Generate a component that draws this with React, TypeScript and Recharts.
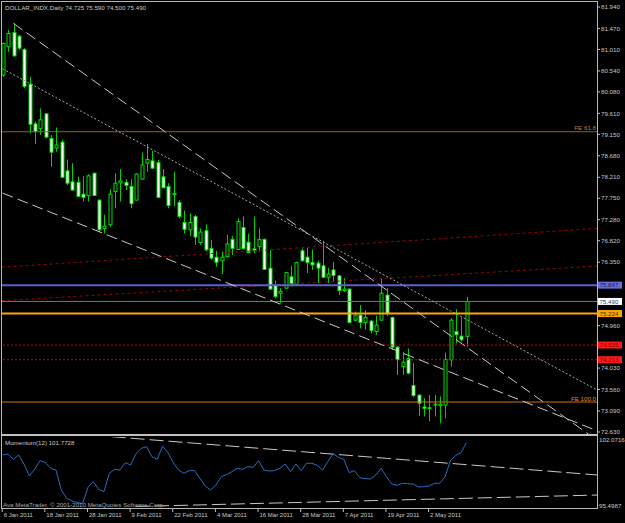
import React from "react";
import { ComposedChart, Bar, Line, XAxis, YAxis, ReferenceLine } from "recharts";

// Daily candles (bar 0 = 6 Jan 2011)
const opens = [
  80.45, 81.07, 81.38, 81.3, 81.01, 80.25, 79.38, 79.28, 79.6, 79.06,
  78.85, 78.98, 78.35, 78.11, 78.1, 77.84, 77.81, 78.3, 77.71, 77.09,
  77.17, 77.9, 78.09, 78.1, 78.01, 77.71, 78.17, 78.52, 78.57, 78.53,
  78.22, 78.01, 77.85, 77.66, 77.22, 77.06, 77.35, 76.78, 77.04, 76.65,
  76.46, 76.38, 76.47, 76.85, 76.63, 77.11, 76.79, 76.64, 76.69, 76.85,
  76.22, 75.84, 75.67, 75.78, 76.03, 75.87, 76.6, 76.46, 76.34, 76.33,
  76.27, 76.02, 76.18, 76.05, 75.73, 75.76, 75.08, 75.19, 75.03, 75.06,
  74.83, 75.08, 75.63, 75.14, 74.49, 74.06, 74.24, 73.65, 73.44, 73.18,
  73.16, 73.22, 73.21, 73.22, 74.21, 74.83, 74.73, 74.725,
];
const highs = [
  81.16, 81.44, 81.58, 81.33, 81.04, 80.41, 79.43, 79.72, 79.61, 79.14,
  79.3, 79.03, 78.6, 78.52, 78.22, 78.24, 78.28, 78.31, 77.72, 77.39,
  77.95, 78.3, 78.39, 78.17, 78.17, 78.3, 78.75, 78.94, 78.79, 78.59,
  78.39, 78.08, 78.33, 77.71, 77.48, 77.42, 77.38, 77.09, 77.18, 76.84,
  76.6, 76.58, 76.95, 76.92, 77.31, 77.35, 76.98, 77.35, 77.09, 76.87,
  76.62, 75.95, 75.78, 76.14, 76.27, 76.36, 76.65, 76.68, 76.63, 76.38,
  76.82, 76.22, 76.36, 76.07, 76.0, 75.78, 75.27, 75.41, 75.3, 75.08,
  75.18, 76.0, 75.78, 75.16, 74.51, 74.39, 74.46, 74.14, 73.44, 73.37,
  73.44, 73.44, 73.41, 74.37, 75.12, 75.32, 75.14, 75.59,
];
const lows = [
  80.41, 80.96, 80.85, 81.0, 80.16, 79.17, 78.94, 79.14, 79.06, 78.44,
  78.77, 78.19, 78.04, 77.92, 77.77, 77.68, 77.68, 77.8, 77.02, 76.98,
  77.13, 77.53, 77.68, 77.93, 77.53, 77.7, 78.15, 78.33, 78.39, 77.75,
  77.97, 77.53, 77.58, 77.31, 76.98, 76.92, 76.73, 76.73, 76.58, 76.4,
  76.25, 76.09, 76.45, 76.51, 76.62, 76.62, 76.55, 76.55, 76.58, 76.18,
  75.74, 75.56, 75.45, 75.77, 75.82, 75.85, 76.36, 76.11, 76.18, 75.89,
  76.0, 75.89, 75.92, 75.63, 75.7, 75.01, 75.05, 74.9, 74.87, 74.79,
  74.76, 75.07, 75.17, 74.43, 73.88, 73.88, 73.89, 73.39, 72.98, 72.97,
  72.86, 72.97, 72.82, 72.93, 74.06, 74.57, 74.61, 74.5,
];
const closes = [
  81.14, 81.36, 80.87, 81.04, 80.2, 79.37, 79.21, 79.47, 79.09, 78.76,
  78.92, 78.21, 78.08, 77.93, 77.79, 77.77, 78.24, 77.81, 77.06, 77.14,
  77.84, 78.08, 78.13, 78.03, 77.63, 78.28, 78.48, 78.6, 78.41, 77.77,
  77.98, 77.59, 77.83, 77.35, 77.07, 77.22, 76.9, 77.01, 76.62, 76.44,
  76.35, 76.46, 76.75, 76.65, 77.24, 76.65, 76.56, 76.6, 76.85, 76.19,
  75.76, 75.6, 75.71, 76.12, 75.87, 76.34, 76.38, 76.34, 76.29, 76.22,
  76.02, 76.09, 76.06, 75.73, 75.76, 75.03, 75.19, 75.03, 75.14, 74.85,
  74.97, 75.67, 75.23, 74.49, 74.22, 74.16, 73.92, 73.43, 73.26, 73.15,
  73.14, 73.24, 73.24, 74.22, 75.08, 74.76, 74.65, 75.49,
];
const momentum = [
  100.53, 100.63, 100.1, 100.53, 99.63, 98.44, 99.1, 99.96, 99.77, 99.2,
  99.03, 97.04, 96.21, 95.95, 95.78, 95.71, 97.31, 97.87, 97.11, 96.88,
  98.7, 99.1, 99.03, 99.77, 99.53, 100.63, 101.19, 101.36, 100.36, 100.1,
  101.42, 100.76, 99.77, 99.03, 98.7, 98.97, 98.97, 98.2, 97.44, 97.04,
  97.54, 98.37, 98.57, 98.87, 99.2, 99.1, 99.37, 99.3, 99.96, 99.03,
  98.93, 98.97, 99.2, 99.63, 98.87, 99.63, 98.97, 99.7, 99.7, 99.5,
  99.03, 99.86, 100.63, 100.3, 100.1, 98.77, 98.97, 98.27, 98.17, 98.14,
  98.54, 99.2, 98.37, 97.64, 97.51, 97.71, 97.67, 97.64, 97.34, 97.37,
  97.44, 97.71, 97.71, 98.37, 99.96, 100.49, 100.76, 101.7728,
];

const priceTicks = [
  81.94, 81.47, 81.01, 80.54, 80.08, 79.61, 79.15, 78.68, 78.21,
  77.75, 77.28, 76.82, 76.35, 74.96, 74.03, 73.56, 73.09, 72.63,
];
const momTicks = [102.0716, 95.4987];
const dateTickBars = [0, 8, 16, 24, 32, 40, 48, 56, 64, 72, 80];
const dateTickLabels = [
  "6 Jan 2011", "18 Jan 2011", "28 Jan 2011", "9 Feb 2011", "22 Feb 2011",
  "4 Mar 2011", "16 Mar 2011", "28 Mar 2011", "7 Apr 2011", "19 Apr 2011", "2 May 2011",
];

// price levels with boxed labels on the axis
const levelPrices = [75.847, 75.49, 75.224, 74.535, 74.213];
const levelLabels = ["75.847", "75.490", "75.224", "74.535", "74.213"];
const fePrices = [79.208, 73.287];
const feLabels = ["FE 61.8", "FE 100.0"];

// trend lines: [bar, price, bar, price]
const channelTop = [2, 81.583, 111.5, 72.448];
const channelMid = [0, 80.586, 111.5, 73.55];
const channelLow = [0, 77.863, 111.5, 72.656];
const redRiseHigh = [-0.2, 76.238, 111.7, 77.092];
const redRiseLow = [-0.2, 75.506, 111.7, 76.266];
const momLineHigh = [16.9, 102.5, 111.5, 98.54];
const momLineLow = [25, 95.4, 111.5, 96.54];

const X_DOMAIN = [-0.13, 111.5];
const FONT = "'Liberation Sans', Arial, sans-serif";
const AXIS_TEXT = "#c8c8c8";

const bars = opens.map((o, i) => ({
  i,
  open: o,
  high: highs[i],
  low: lows[i],
  close: closes[i],
  range: [lows[i], highs[i]],
}));
const momRows = momentum.map((m, i) => ({ i, mom: m }));

function Candle(props: any) {
  const { x, y, width, height, payload } = props;
  if (x == null || !payload) return null;
  const top = Math.min(y, y + height);
  const bottom = Math.max(y, y + height);
  const span = payload.high - payload.low || 1;
  const toY = (v: number) => top + ((payload.high - v) / span) * (bottom - top);
  const cx = Math.round(x + width / 2) + 0.5;
  const yo = toY(payload.open);
  const yc = toY(payload.close);
  const bTop = Math.min(yo, yc);
  const bH = Math.max(Math.abs(yc - yo), 0.8);
  const bear = payload.close < payload.open;
  return (
    <g>
      <line x1={cx} x2={cx} y1={top} y2={bottom} stroke="#00d000" strokeWidth={1} />
      <rect x={cx - 1.5} y={bTop} width={3} height={bH} fill={bear ? "#ffffff" : "#000000"} stroke="#00e000" strokeWidth={1} />
    </g>
  );
}

function PriceTick(props: any) {
  const { x, y, payload } = props;
  return (
    <g>
      <line x1={x + 1} x2={x + 3} y1={y} y2={y} stroke="#c0c0c0" />
      <text x={x + 4} y={y + 2.2} fill={AXIS_TEXT} fontSize={6.2} fontFamily={FONT}>
        {payload.value.toFixed(3)}
      </text>
    </g>
  );
}

function MomTick(props: any) {
  const { x, y, payload } = props;
  return (
    <text x={x + 2} y={y + 2.2} fill={AXIS_TEXT} fontSize={6.2} fontFamily={FONT}>
      {payload.value.toFixed(4)}
    </text>
  );
}

function DateTick(props: any) {
  const { x, y, payload } = props;
  const k = dateTickBars.indexOf(payload.value);
  return (
    <g>
      <line x1={x - 0.5} x2={x - 0.5} y1={y + 1} y2={y + 4} stroke="#c0c0c0" />
      <text x={x + 1} y={y + 8.5} fill={AXIS_TEXT} fontSize={6} fontFamily={FONT}>
        {dateTickLabels[k]}
      </text>
    </g>
  );
}

function BoxLabel(props: any) {
  const { viewBox, text, fill, color } = props;
  if (!viewBox) return null;
  const x = viewBox.x + viewBox.width + 1;
  const y = viewBox.y;
  return (
    <g>
      <rect x={x} y={y - 3.5} width={24} height={7} fill={fill} />
      <text x={x + 1.5} y={y + 2.2} fill={color} fontSize={6.2} fontFamily={FONT}>
        {text}
      </text>
    </g>
  );
}

function FeLabel(props: any) {
  const { viewBox, text, color } = props;
  if (!viewBox) return null;
  return (
    <text x={viewBox.x + viewBox.width - 1} y={viewBox.y - 1.5} textAnchor="end" fill={color} fontSize={6.2} fontFamily={FONT}>
      {text}
    </text>
  );
}

const seg = (s: number[]) => [
  { x: s[0], y: s[1] },
  { x: s[2], y: s[3] },
];

const levelStyles = [
  { stroke: "#5f5fcc", width: 2, dash: undefined, fill: "#6a6ad8", color: "#1a1a50" },
  { stroke: "#6e7888", width: 1, dash: undefined, fill: "#ffffff", color: "#404040" },
  { stroke: "#ffa500", width: 2, dash: undefined, fill: "#ffa500", color: "#4a3000" },
  { stroke: "#d00000", width: 1, dash: "2 2", fill: "#ff1a1a", color: "#8a0000" },
  { stroke: "#d00000", width: 1, dash: "2 2", fill: "#ff1a1a", color: "#8a0000" },
];
const feStyles = [
  { stroke: "#9a5a28", text: "#c87838" },
  { stroke: "#d07018", text: "#e08a30" },
];

export default function App() {
  return (
    <div style={{ position: "absolute", left: 0, top: 0, width: 625, height: 523, background: "#000", overflow: "hidden" }}>
      <div style={{ position: "absolute", left: 0, top: 0 }}>
        <ComposedChart width={625} height={436} data={bars} margin={{ top: 3, right: 0, bottom: 2, left: 2 }}>
          <XAxis dataKey="i" type="number" domain={X_DOMAIN} allowDataOverflow hide />
          <YAxis
            orientation="right"
            type="number"
            domain={[72.586, 82.028]}
            allowDataOverflow
            ticks={priceTicks}
            interval={0}
            width={28}
            axisLine={false}
            tickLine={false}
            tickSize={0}
            tickMargin={0}
            tick={<PriceTick />}
          />
          <ReferenceLine segment={seg(redRiseHigh)} stroke="#a00000" strokeDasharray="3 3" ifOverflow="hidden" />
          <ReferenceLine segment={seg(redRiseLow)} stroke="#a00000" strokeDasharray="3 3" ifOverflow="hidden" />
          {fePrices.map((p, k) => (
            <ReferenceLine
              key={"fe" + k}
              y={p}
              stroke={feStyles[k].stroke}
              strokeWidth={1}
              label={<FeLabel text={feLabels[k]} color={feStyles[k].text} />}
            />
          ))}
          <Bar dataKey="range" barSize={4} shape={<Candle />} isAnimationActive={false} />
          {levelPrices.map((p, k) => (
            <ReferenceLine
              key={"lv" + k}
              y={p}
              stroke={levelStyles[k].stroke}
              strokeWidth={levelStyles[k].width}
              strokeDasharray={levelStyles[k].dash}
              label={<BoxLabel text={levelLabels[k]} fill={levelStyles[k].fill} color={levelStyles[k].color} />}
            />
          ))}
          <ReferenceLine segment={seg(channelTop)} stroke="#c8c8c8" strokeDasharray="11 5" ifOverflow="hidden" />
          <ReferenceLine segment={seg(channelMid)} stroke="#a8a8a8" strokeDasharray="2 2" ifOverflow="hidden" />
          <ReferenceLine segment={seg(channelLow)} stroke="#c8c8c8" strokeDasharray="11 5" ifOverflow="hidden" />
        </ComposedChart>
      </div>
      <div style={{ position: "absolute", left: 0, top: 436 }}>
        <ComposedChart width={625} height={87} data={momRows} margin={{ top: 1, right: 0, bottom: 0, left: 2 }}>
          <XAxis
            dataKey="i"
            type="number"
            domain={X_DOMAIN}
            allowDataOverflow
            ticks={dateTickBars}
            interval={0}
            height={15}
            axisLine={false}
            tickLine={false}
            tickSize={0}
            tickMargin={0}
            tick={<DateTick />}
          />
          <YAxis
            orientation="right"
            type="number"
            domain={[95.249, 102.32]}
            allowDataOverflow
            ticks={momTicks}
            interval={0}
            width={28}
            axisLine={false}
            tickLine={false}
            tickSize={0}
            tickMargin={0}
            tick={<MomTick />}
          />
          <ReferenceLine segment={seg(momLineHigh)} stroke="#c8c8c8" strokeDasharray="14 5" ifOverflow="hidden" />
          <ReferenceLine segment={seg(momLineLow)} stroke="#c8c8c8" strokeDasharray="14 5" ifOverflow="hidden" />
          <Line dataKey="mom" type="linear" stroke="#2a6cc0" strokeWidth={1} dot={false} isAnimationActive={false} />
        </ComposedChart>
      </div>
      <svg width={625} height={523} style={{ position: "absolute", left: 0, top: 0, pointerEvents: "none" }}>
        <rect x={1.5} y={1.5} width={596} height={507} fill="none" stroke="#b8b8b8" strokeWidth={1} />
        <rect x={1} y={434} width={597} height={2} fill="#c0c0c0" />
        <text x={5} y={9.5} fill="#c8c8c8" fontSize={6.2} fontFamily={FONT}>
          DOLLAR_INDX,Daily  74.725 75.590 74.500 75.490
        </text>
        <text x={5} y={445} fill="#c8c8c8" fontSize={6.2} fontFamily={FONT}>
          Momentum(12) 101.7728
        </text>
        <text x={3} y={507} fill="#a8a8a8" fontSize={6.2} fontFamily={FONT}>
          Ava MetaTrader, © 2001-2010 MetaQuotes Software Corp.
        </text>
      </svg>
    </div>
  );
}
